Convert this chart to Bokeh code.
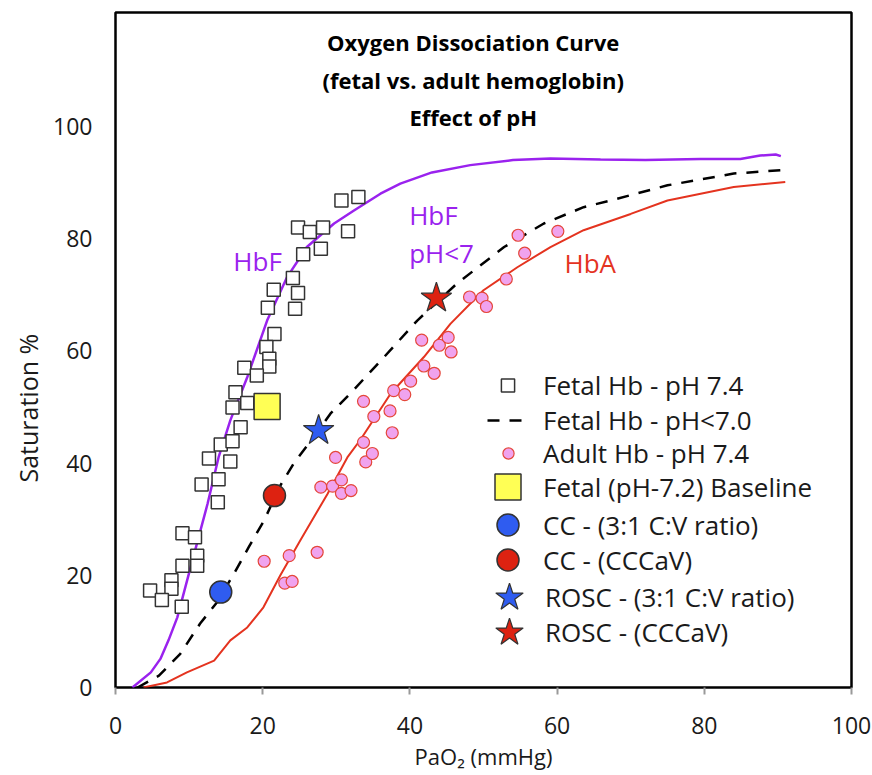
from bokeh.plotting import figure
from bokeh.models import Range1d, FixedTicker, Legend, LegendItem, Label, Title
from bokeh.embed import file_html
from bokeh.resources import INLINE

# ---------------- data ----------------
# Fetal Hb - pH 7.4 (open squares)
fetal_po2 = [30.7, 33.0, 24.8, 26.4, 28.2, 31.6, 27.9, 25.5, 24.1, 21.5, 24.8, 20.7, 24.4,
             21.6, 20.5, 20.9, 20.9, 17.5, 19.2, 16.3, 15.9, 17.9, 17.0, 14.3, 15.9, 12.7,
             15.6, 14.0, 11.7, 13.9, 9.1, 10.8, 11.1, 11.1, 9.1, 7.6, 7.6, 4.7, 6.3, 9.0]
fetal_sat = [86.8, 87.4, 82.0, 81.2, 82.0, 81.3, 78.2, 77.2, 73.0, 70.9, 70.3, 67.7, 67.5,
             63.0, 60.7, 58.6, 57.2, 57.0, 55.6, 52.6, 49.9, 50.7, 46.4, 43.3, 43.9, 40.8,
             40.3, 37.1, 36.2, 33.0, 27.5, 26.8, 23.5, 21.7, 21.7, 19.1, 17.6, 17.3, 15.6, 14.4]

# Adult Hb - pH 7.4 (pink circles)
adult_po2 = [20.2, 23.6, 27.4, 23.0, 24.0, 27.9, 29.5, 30.7, 30.7, 32.0, 29.9, 34.0, 34.9,
             33.7, 37.6, 35.1, 37.3, 33.7, 37.8, 39.3, 40.1, 41.9, 43.3, 41.6, 44.0, 45.2,
             45.6, 48.1, 49.8, 50.4, 53.1, 55.6, 54.7, 60.1]
adult_sat = [22.5, 23.5, 24.1, 18.6, 18.9, 35.7, 35.9, 37.0, 34.6, 35.1, 41.0, 40.2, 41.7,
             43.7, 45.4, 48.3, 49.3, 51.0, 52.9, 52.2, 54.6, 57.3, 56.0, 61.9, 61.0, 62.4,
             59.8, 69.6, 69.4, 67.9, 72.8, 77.4, 80.6, 81.3]

# HbF curve (purple)
hbf_po2 = [2.3, 4.8, 6.1, 7.2, 8.4, 10.2, 12.5, 14.0, 15.6, 17.9, 20.6, 23.3, 26.0, 29.7,
           32.4, 36.0, 38.7, 43.0, 48.2, 54.0, 59.1, 65.9, 72.0, 79.5, 84.9, 87.6, 89.7, 90.4]
hbf_sat = [0.0, 2.7, 5.1, 8.4, 12.5, 21.4, 32.7, 41.0, 47.6, 55.3, 65.4, 73.1, 78.5, 82.7,
           85.0, 88.0, 89.8, 91.8, 93.1, 94.0, 94.3, 94.1, 94.0, 94.2, 94.2, 94.8, 95.0, 94.7]

# HbF pH<7 curve (dashed)
hbf_acid_po2 = [3.0, 5.9, 8.8, 11.5, 13.8, 16.1, 18.1, 20.2, 22.4, 24.2, 26.9, 29.2, 31.9,
                36.5, 41.0, 46.4, 52.8, 58.2, 63.6, 67.3, 75.0, 84.0, 91.5]
hbf_acid_sat = [0.0, 2.1, 6.0, 11.4, 15.2, 20.3, 25.0, 29.8, 36.0, 39.9, 44.6, 48.8, 52.4,
                58.9, 65.4, 72.0, 78.5, 82.7, 85.6, 86.8, 89.5, 91.6, 92.3]

# HbA curve (red)
hba_po2 = [3.8, 7.0, 9.7, 13.4, 15.6, 17.9, 20.1, 22.4, 25.1, 28.8, 31.5, 33.3, 37.4, 41.9,
           45.5, 50.0, 54.6, 59.1, 63.6, 70.0, 75.0, 84.0, 91.0]
hba_sat = [0.0, 0.9, 2.7, 4.8, 8.4, 10.7, 14.3, 20.0, 26.2, 34.5, 41.0, 44.2, 52.4, 58.9,
           64.8, 70.8, 74.9, 78.5, 81.5, 84.4, 86.8, 89.2, 90.1]

# Single markers
baseline_po2, baseline_sat = [20.6], [50.1]
cc31_po2, cc31_sat = [14.3], [17.0]
cccav_po2, cccav_sat = [21.6], [34.2]
rosc31_po2, rosc31_sat = [27.6], [45.8]
rosccav_po2, rosccav_sat = [43.6], [69.4]

x_ticks = [0, 20, 40, 60, 80, 100]
y_ticks = [0, 20, 40, 60, 80, 100]

legend_labels = ["Fetal Hb - pH 7.4", "Fetal Hb - pH<7.0", "Adult Hb - pH 7.4",
                 "Fetal (pH-7.2) Baseline", "CC - (3:1 C:V ratio)", "CC - (CCCaV)",
                 "ROSC - (3:1 C:V ratio)", "ROSC - (CCCaV)"]

title_lines = ["Oxygen Dissociation Curve", "(fetal vs. adult hemoglobin)", "Effect of pH"]

# ---------------- styles ----------------
FONT = "Open Sans"
PURPLE = "#9a22ee"
REDLINE = "#e4331f"
PINK = "#f0a3ee"
PINK_EDGE = "#e4473a"
BLUE = "#2f5cf0"
RED = "#dd2211"
YELLOW = "#ffff55"
EDGE = "#333333"

p = figure(width=872, height=775, output_backend="svg", toolbar_location=None,
           x_range=Range1d(0, 100), y_range=Range1d(0, 120.3),
           min_border_left=115, min_border_right=21, min_border_top=12, min_border_bottom=88)
p.background_fill_color = "white"
p.border_fill_color = "white"
p.outline_line_color = "black"
p.outline_line_width = 2.5
p.xgrid.visible = False
p.ygrid.visible = False

xa = p.xaxis[0]
xa.ticker = FixedTicker(ticks=x_ticks)
xa.axis_line_color = None
xa.major_tick_line_color = "#999999"
xa.major_tick_line_width = 2
xa.major_tick_out = 7
xa.major_tick_in = 0
xa.minor_tick_line_color = None
xa.major_label_standoff = 22
xa.major_label_text_font = FONT
xa.major_label_text_font_size = "23px"
xa.major_label_text_color = "#1a1a1a"
xa.axis_label = "PaO\u2082 (mmHg)"
xa.axis_label_text_font = FONT
xa.axis_label_text_font_size = "22px"
xa.axis_label_text_font_style = "normal"
xa.axis_label_text_color = "#1a1a1a"
xa.axis_label_standoff = 4

ya = p.yaxis[0]
ya.ticker = FixedTicker(ticks=y_ticks)
ya.axis_line_color = None
ya.major_tick_line_color = None
ya.major_tick_out = 0
ya.major_tick_in = 0
ya.minor_tick_line_color = None
ya.major_label_standoff = 23
ya.major_label_text_font = FONT
ya.major_label_text_font_size = "23px"
ya.major_label_text_color = "#1a1a1a"

# y-axis title placed as a side title so it can sit on the 0-100 span
p.add_layout(Title(text="Saturation %", align="left", offset=205, standoff=12,
                   text_font=FONT, text_font_size="25px", text_font_style="normal",
                   text_color="#1a1a1a"), "left")

# ---------------- curves ----------------
r_hbf = p.line(hbf_po2, hbf_sat, line_color=PURPLE, line_width=2.5)
r_acid = p.line(hbf_acid_po2, hbf_acid_sat, line_color="black", line_width=2.5,
                line_dash="12 10")
r_hba = p.line(hba_po2, hba_sat, line_color=REDLINE, line_width=2)

# ---------------- points ----------------
r_adult = p.scatter(adult_po2, adult_sat, marker="circle", size=12, fill_color=PINK,
                    line_color=PINK_EDGE, line_width=1.2)
r_fetal = p.scatter(fetal_po2, fetal_sat, marker="square", size=13, fill_color="white",
                    line_color=EDGE, line_width=1.5)
r_base = p.scatter(baseline_po2, baseline_sat, marker="square", size=26, fill_color=YELLOW,
                   line_color=EDGE, line_width=1.5)
r_cc31 = p.scatter(cc31_po2, cc31_sat, marker="circle", size=22, fill_color=BLUE,
                   line_color=EDGE, line_width=1.5)
r_cccav = p.scatter(cccav_po2, cccav_sat, marker="circle", size=22, fill_color=RED,
                    line_color=EDGE, line_width=1.5)
r_rosc31 = p.scatter(rosc31_po2, rosc31_sat, marker="star", size=32, fill_color=BLUE,
                     line_color=EDGE, line_width=1.2)
r_rosccav = p.scatter(rosccav_po2, rosccav_sat, marker="star", size=32, fill_color=RED,
                      line_color=EDGE, line_width=1.2)

# ---------------- curve labels ----------------
for txt, x, y, col, align in [("HbF", 19.3, 76.1, PURPLE, "center"),
                              ("HbF", 39.9, 84.2, PURPLE, "left"),
                              ("pH<7", 39.9, 77.4, PURPLE, "left"),
                              ("HbA", 64.5, 75.6, REDLINE, "center")]:
    p.add_layout(Label(x=x, y=y, text=txt, text_color=col, text_font=FONT,
                       text_font_size="26px", text_align=align, text_baseline="middle"))

# ---------------- title ----------------
for i, line in enumerate(title_lines):
    p.add_layout(Label(x=48.6, y=115.0 - 6.7 * i, text=line, text_font=FONT,
                       text_font_size="22px", text_font_style="bold", text_color="black",
                       text_align="center", text_baseline="middle"))

# ---------------- legend (one small legend per row for individual glyph sizes) ----------
legend_specs = [
    # renderer, glyph_w, glyph_h, loc_x, loc_y, standoff
    (r_fetal, 33, 40, 376, 282, 19),
    (r_acid, 43, 40, 372, 247, 13),
    (r_adult, 28, 40, 379, 214, 21),
    (r_base, 65, 65, 360, 168, 3),
    (r_cc31, 55, 55, 365, 135, 8),
    (r_cccav, 55, 55, 365, 100, 8),
    (r_rosc31, 72, 72, 358, 54, 0),
    (r_rosccav, 72, 72, 358, 19, 0),
]
for (rend, gw, gh, lx, ly, so), lab in zip(legend_specs, legend_labels):
    leg = Legend(items=[LegendItem(label=lab, renderers=[rend])], location=(lx, ly),
                 glyph_width=gw, glyph_height=gh, label_standoff=so, padding=0, margin=0,
                 spacing=0, border_line_color=None, background_fill_alpha=0,
                 label_text_font=FONT, label_text_font_size="26px",
                 label_text_color="#1a1a1a")
    p.add_layout(leg)

open("out.html", "w").write(file_html(p, INLINE))
